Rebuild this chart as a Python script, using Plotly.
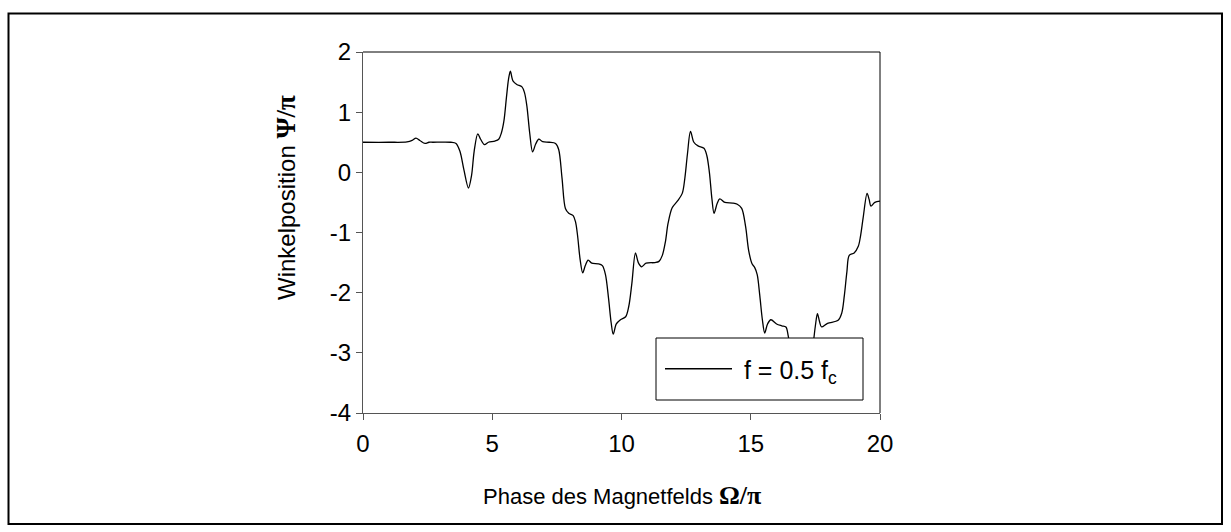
import plotly.graph_objects as go

# Phase of magnetic field (Omega/pi) and angular position (Psi/pi)
phase = [0, 1.0, 1.7, 1.9, 2.05, 2.2, 2.4, 2.55, 2.7, 3.4, 3.6, 3.75, 3.9, 4.08, 4.2, 4.3,
         4.44, 4.55, 4.70, 4.85, 5.1, 5.25, 5.35, 5.45, 5.55, 5.63, 5.70, 5.8, 5.95, 6.15,
         6.25, 6.34, 6.45, 6.56, 6.68, 6.80, 6.95, 7.2, 7.45, 7.57, 7.70, 7.83, 7.96, 8.13,
         8.22, 8.30, 8.40, 8.50, 8.60, 8.71, 8.85, 9.1, 9.26, 9.38, 9.50, 9.60, 9.68, 9.80,
         9.96, 10.16, 10.28, 10.40, 10.54, 10.65, 10.78, 10.95, 11.3, 11.45, 11.58, 11.70,
         11.80, 11.96, 12.16, 12.35, 12.45, 12.55, 12.67, 12.80, 12.96, 13.19, 13.30, 13.40,
         13.50, 13.58, 13.70, 13.80, 14.0, 14.3, 14.48, 14.65, 14.80, 14.92, 15.05, 15.15,
         15.25, 15.35, 15.45, 15.54, 15.65, 15.78, 16.0, 16.2, 16.36, 16.45, 16.6, 16.75,
         16.9, 17.1, 17.3, 17.43, 17.50, 17.58, 17.66, 17.74, 17.97, 18.38, 18.52, 18.62,
         18.72, 18.81, 19.00, 19.16, 19.25, 19.35, 19.50, 19.58, 19.65, 19.80, 20.0]
position = [0.50, 0.50, 0.505, 0.53, 0.57, 0.53, 0.48, 0.50, 0.50, 0.50, 0.48, 0.35, 0.05, -0.26, -0.05, 0.35,
            0.64, 0.55, 0.46, 0.50, 0.52, 0.55, 0.65, 0.85, 1.25, 1.55, 1.68, 1.52, 1.46, 1.42,
            1.32, 1.10, 0.65, 0.34, 0.47, 0.55, 0.51, 0.50, 0.48, 0.38, -0.10, -0.60, -0.68, -0.72,
            -0.82, -1.05, -1.45, -1.67, -1.55, -1.46, -1.51, -1.52, -1.55, -1.70, -2.10, -2.50, -2.69, -2.52,
            -2.45, -2.40, -2.23, -1.85, -1.34, -1.50, -1.57, -1.51, -1.50, -1.48, -1.38, -1.15,
            -0.85, -0.59, -0.48, -0.35, -0.10, 0.30, 0.68, 0.50, 0.44, 0.40, 0.28, 0.00,
            -0.45, -0.68, -0.52, -0.44, -0.50, -0.51, -0.53, -0.60, -0.90, -1.30, -1.52, -1.58,
            -1.70, -2.05, -2.45, -2.67, -2.52, -2.45, -2.52, -2.55, -2.57, -2.72, -3.2, -3.55,
            -3.48, -3.45, -3.2, -2.80, -2.55, -2.35, -2.48, -2.57, -2.51, -2.46, -2.34, -2.05,
            -1.65, -1.38, -1.34, -1.23, -1.05, -0.75, -0.35, -0.45, -0.56, -0.50, -0.48]

x_ticks = [0, 5, 10, 15, 20]
y_ticks = [-4, -3, -2, -1, 0, 1, 2]

FONT = "Liberation Sans, Arial, sans-serif"
SERIF = "Liberation Serif, Times New Roman, serif"

fig = go.Figure()
fig.add_trace(go.Scatter(
    x=phase, y=position, mode="lines",
    line=dict(color="black", width=1.3, shape="spline", smoothing=0.9),
    name="\u00a0f = 0.5 f<sub>c</sub>", showlegend=True,
))

W, H = 1231, 532
L, R, T, B = 363, 880, 52, 413


def px_to_paper_x(px):
    return (px - L) / (R - L)


def px_to_paper_y(py):
    return (B - py) / (B - T)


fig.update_layout(
    width=W, height=H,
    margin=dict(l=L, r=W - R, t=T, b=H - B, pad=0),
    paper_bgcolor="white", plot_bgcolor="white",
    font=dict(family=FONT, color="black", size=24),
    showlegend=True,
    legend=dict(
        x=px_to_paper_x(660), y=px_to_paper_y(369), xanchor="left", yanchor="middle",
        bgcolor="rgba(0,0,0,0)", borderwidth=0,
        font=dict(family=FONT, size=25, color="black"),
        itemwidth=67,
    ),
    xaxis=dict(
        range=[0, 20], tickvals=x_ticks, ticktext=[str(v) for v in x_ticks],
        showgrid=False, zeroline=False, showline=True, linecolor="#555", linewidth=1,
        ticks="outside", ticklen=6, tickcolor="#555", tickfont=dict(size=24),
        ticklabelstandoff=3,
    ),
    yaxis=dict(
        range=[-4, 2], tickvals=y_ticks, ticktext=[str(v) for v in y_ticks],
        showgrid=False, zeroline=False, showline=True, linecolor="#555", linewidth=1,
        ticks="outside", ticklen=6, tickcolor="#555", tickfont=dict(size=24),
    ),
    shapes=[
        # top and right frame lines of plot area
        dict(type="line", xref="paper", yref="paper", x0=0, x1=1, y0=1, y1=1,
             line=dict(color="black", width=1), layer="above"),
        dict(type="line", xref="paper", yref="paper", x0=1, x1=1, y0=0, y1=1,
             line=dict(color="black", width=1), layer="above"),
        # legend box
        dict(type="rect", xref="paper", yref="paper",
             x0=px_to_paper_x(656), x1=px_to_paper_x(863),
             y0=px_to_paper_y(400), y1=px_to_paper_y(338),
             line=dict(color="black", width=1), fillcolor="white", layer="above"),
        # outer frame
        dict(type="rect", xref="paper", yref="paper",
             x0=px_to_paper_x(8.5), x1=px_to_paper_x(1222),
             y0=px_to_paper_y(524), y1=px_to_paper_y(13.5),
             line=dict(color="black", width=2), fillcolor="rgba(0,0,0,0)", layer="above"),
    ],
    annotations=[
        dict(text="Phase des Magnetfelds <span style='font-family:" + SERIF + "; font-size:26px'><b>Ω/π</b></span>",
             xref="paper", yref="paper", x=px_to_paper_x(622), y=px_to_paper_y(495),
             xanchor="center", yanchor="middle", showarrow=False,
             font=dict(family=FONT, size=22, color="black")),
        dict(text="Winkelposition <span style='font-family:" + SERIF + "; font-size:27px'><b>Ψ/π</b></span>",
             xref="paper", yref="paper", x=px_to_paper_x(286), y=px_to_paper_y(198),
             xanchor="center", yanchor="middle", showarrow=False, textangle=-90,
             font=dict(family=FONT, size=24, color="black")),
    ],
)

fig.write_html("out.html")
